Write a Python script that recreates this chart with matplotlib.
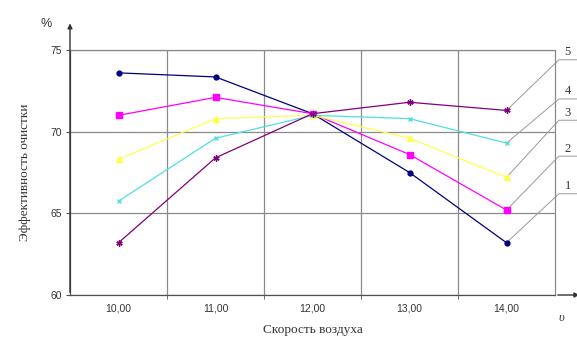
# -*- coding: utf-8 -*-
"""Эффективность очистки в зависимости от скорости воздуха (5 серий)."""

import matplotlib

matplotlib.use("Agg")
import matplotlib.pyplot as plt

categories = ["10,00", "11,00", "12,00", "13,00", "14,00"]
series_names = ["1", "2", "3", "4", "5"]
s1 = [73.6, 73.35, 71.1, 67.5, 63.2]
s2 = [71.0, 72.1, 71.1, 68.6, 65.2]
s3 = [68.3, 70.8, 71.0, 69.6, 67.2]
s4 = [65.75, 69.6, 71.0, 70.8, 69.3]
s5 = [63.2, 68.4, 71.1, 71.8, 71.3]
label_y = [66.2, 68.5, 70.7, 72.0, 74.4]  # где стоят выноски с номерами
y_ticks = [60, 65, 70, 75]

colors = ["#000080", "#ff00ff", "#ffff50", "#50e0e0", "#800080"]
markers = ["o", "s", "^", "x", (6, 2, 0)]
msizes = [3.5, 5, 4, 3.5, 4.5]

SERIF = ["Liberation Serif", "DejaVu Serif"]
SANS = ["Liberation Sans", "DejaVu Sans"]
GRID = "#8a8a8a"
AXIS = "#505050"


def main():
    fig = plt.figure(figsize=(5.77, 3.47), dpi=100)
    ax = fig.add_axes([70 / 577, 1 - 295 / 347, 485 / 577, 245 / 347])
    xs = list(range(1, len(categories) + 1))

    for vals, c, m, ms in zip([s1, s2, s3, s4, s5], colors, markers, msizes):
        ax.plot(xs, vals, color=c, lw=0.9, marker=m, ms=ms,
                mec=c, mfc=c, mew=1.0, zorder=3)

    ax.set_xlim(0.5, 5.5)
    ax.set_ylim(60, 75)
    ax.set_xticks(xs)
    ax.set_xticklabels(categories, family=SANS, fontsize=7.5, color="#333333")
    ax.set_xticks([1.5, 2.5, 3.5, 4.5], minor=True)
    ax.set_yticks(y_ticks)
    ax.set_yticklabels([str(v) for v in y_ticks], family=SANS, fontsize=7.5,
                       color="#333333")
    ax.tick_params(axis="x", which="major", length=0, pad=6)
    ax.tick_params(axis="x", which="minor", length=3, color=AXIS)
    ax.tick_params(axis="y", length=3, color=AXIS, pad=3)

    ax.grid(True, axis="y", which="major", color=GRID, lw=0.9)
    ax.grid(True, axis="x", which="minor", color=GRID, lw=0.9)
    ax.set_axisbelow(True)
    for name, sp in ax.spines.items():
        sp.set_linewidth(0.9)
        sp.set_color(AXIS if name in ("left", "bottom") else GRID)

    # оси со стрелками
    ax.annotate("", xy=(0.5, 76.8), xytext=(0.5, 60), xycoords="data",
                arrowprops=dict(arrowstyle="-|>", color="#333333", lw=1.0,
                                mutation_scale=7), annotation_clip=False)
    ax.annotate("", xy=(5.78, 60), xytext=(5.5, 60), xycoords="data",
                arrowprops=dict(arrowstyle="-|>", color="#333333", lw=1.0,
                                mutation_scale=7), annotation_clip=False)
    ax.text(0.25, 76.6, "%", family=SANS, fontsize=9, color="#333333",
            ha="center", va="center")
    ax.text(5.56, 58.6, "υ", family=SERIF, fontsize=9, style="italic",
            color="#333333", ha="center", va="center")

    # выноски с номерами кривых
    for vals, name, ly in zip([s1, s2, s3, s4, s5], series_names, label_y):
        ex = 5.54
        ax.plot([xs[-1], ex, 5.8], [vals[-1], ly, ly], color="#9a9a9a",
                lw=0.7, clip_on=False, zorder=2)
        ax.text(ex + 0.06, ly + 0.1, name, family=SERIF, fontsize=9,
                color="#333333", ha="left", va="bottom")

    ax.set_xlabel("Скорость воздуха", family=SERIF, fontsize=9.5,
                  color="#333333", labelpad=8)
    ax.set_ylabel("Эффективность очистки", family=SERIF, fontsize=9.5,
                  color="#333333", labelpad=14)

    fig.savefig("out.png", dpi=100)
    plt.close(fig)


if __name__ == "__main__":
    main()
